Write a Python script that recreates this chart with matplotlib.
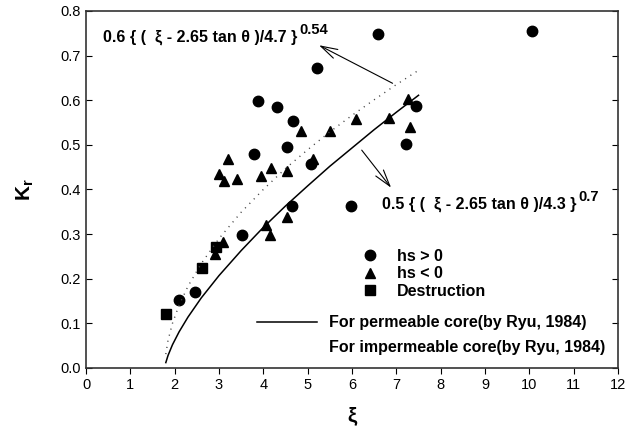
import matplotlib
matplotlib.use("Agg")
import matplotlib.pyplot as plt
from matplotlib.lines import Line2D

plt.rcParams['font.family'] = ['Liberation Sans', 'DejaVu Sans']
plt.rcParams['mathtext.fontset'] = 'custom'
plt.rcParams['mathtext.rm'] = 'Liberation Sans:bold'
plt.rcParams['mathtext.it'] = 'Liberation Sans:bold'
plt.rcParams['mathtext.bf'] = 'Liberation Sans:bold'

# measured points (xi, Kr)
pos_xi = [10.07, 6.59, 5.22, 3.88, 4.31, 7.44, 4.66, 7.22, 4.54, 3.80, 5.08, 5.97, 4.65, 3.52, 2.45, 2.09]
pos_kr = [0.754, 0.749, 0.672, 0.598, 0.584, 0.586, 0.554, 0.502, 0.496, 0.480, 0.457, 0.364, 0.363, 0.298, 0.170, 0.152]

neg_xi = [7.26, 6.08, 6.84, 7.30, 4.85, 5.50, 3.20, 5.11, 4.18, 4.53, 3.00, 3.95, 3.41, 3.11, 4.05, 4.53, 4.15, 3.10, 2.90]
neg_kr = [0.603, 0.558, 0.560, 0.539, 0.531, 0.530, 0.469, 0.469, 0.448, 0.442, 0.435, 0.431, 0.424, 0.419, 0.321, 0.339, 0.298, 0.282, 0.255]

des_xi = [1.80, 2.62, 2.93]
des_kr = [0.121, 0.225, 0.272]

# curves
curve_xi = [1.80, 1.85, 1.95, 2.1, 2.3, 2.6, 3.0, 3.5, 4.0, 4.5, 5.0, 5.5, 6.0, 6.5, 7.0, 7.5]
perm_kr = [0.012, 0.028, 0.052, 0.081, 0.114, 0.157, 0.207, 0.263, 0.315, 0.363, 0.408, 0.452, 0.493, 0.534, 0.573, 0.611]
imperm_kr = [0.031, 0.062, 0.100, 0.141, 0.183, 0.234, 0.290, 0.349, 0.400, 0.447, 0.489, 0.529, 0.566, 0.601, 0.635, 0.667]

fig = plt.figure(figsize=(6.39, 4.37), dpi=100)
ax = fig.add_axes([0.1346, 0.158, 0.8326, 0.817])

h1, = ax.plot(pos_xi, pos_kr, 'o', color='black', ms=7.5, ls='none')
h2, = ax.plot(neg_xi, neg_kr, '^', color='black', ms=7.5, ls='none')
h3, = ax.plot(des_xi, des_kr, 's', color='black', ms=6.5, ls='none')
h4, = ax.plot(curve_xi, perm_kr, '-', color='black', lw=1.1)
h5, = ax.plot(curve_xi, imperm_kr, color='#444444', lw=1.0, ls=(0, (0.8, 3.7)))

ax.set_xlim(0, 12)
ax.set_ylim(0, 0.8)
ax.set_xticks(range(0, 13))
ax.set_yticks([i / 10 for i in range(9)])
ax.set_yticklabels(['%.1f' % (i / 10) for i in range(9)])
ax.tick_params(axis='both', labelsize=10.5)
ax.tick_params(axis='y', direction='in', length=4, right=True)
ax.tick_params(axis='x', direction='out', length=4, top=False)
for s in ax.spines.values():
    s.set_color('#333333')
    s.set_linewidth(1.2)

ax.set_ylabel('K$_{r}$', fontsize=15, fontweight='bold', labelpad=18)
ax.set_xlabel('ξ', fontsize=15, fontweight='bold', labelpad=10)

# formula labels with arrows
t1 = ax.text(0.38, 0.732, '0.6 { (  ξ - 2.65 tan θ )/4.7 }',
             fontsize=11.5, fontweight='bold', ha='left', va='baseline')
ax.annotate('0.54', xy=(1, 0.5), xycoords=t1, xytext=(1.5, 5), textcoords='offset points',
            fontsize=10.5, fontweight='bold', ha='left', va='center')
t2 = ax.text(6.67, 0.357, '0.5 { (  ξ - 2.65 tan θ )/4.3 }',
             fontsize=11.5, fontweight='bold', ha='left', va='baseline')
ax.annotate('0.7', xy=(1, 0.5), xycoords=t2, xytext=(1.5, 5), textcoords='offset points',
            fontsize=10.5, fontweight='bold', ha='left', va='center')
ax.annotate('', xy=(5.20, 0.726), xytext=(6.97, 0.635),
            arrowprops=dict(arrowstyle='->,head_length=1.2,head_width=0.35', color='black', lw=0.8))
ax.annotate('', xy=(6.92, 0.399), xytext=(6.18, 0.493),
            arrowprops=dict(arrowstyle='->,head_length=1.2,head_width=0.35', color='black', lw=0.8))

leg1 = ax.legend([h1, h2, h3], ['hs > 0', 'hs < 0', 'Destruction'],
                 loc='upper left', bbox_to_anchor=(0.519, 0.334), frameon=False,
                 borderpad=0, borderaxespad=0, handlelength=1.0, handletextpad=1.2,
                 labelspacing=0.16, prop={'weight': 'bold', 'size': 11.5})
ax.add_artist(leg1)
blank = Line2D([], [], ls='none')
ax.legend([h4, blank], ['For permeable core(by Ryu, 1984)', 'For impermeable core(by Ryu, 1984)'],
          loc='upper left', bbox_to_anchor=(0.321, 0.147), frameon=False,
          borderpad=0, borderaxespad=0, handlelength=3.8, handletextpad=0.7,
          labelspacing=0.62, prop={'weight': 'bold', 'size': 11.5})

fig.savefig('out.png', dpi=100)
